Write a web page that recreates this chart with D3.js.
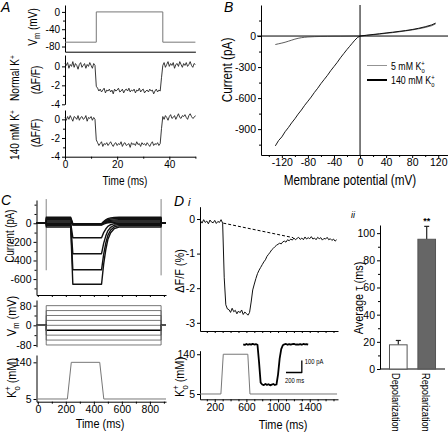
<!DOCTYPE html>
<html><head><meta charset="utf-8">
<script src="https://cdn.jsdelivr.net/npm/d3@7"></script>
<style>
body{margin:0;background:#fff}
svg{display:block}
text{font-family:"Liberation Sans",Arial,sans-serif;fill:#000}
</style></head><body>
<svg id="fig" width="448" height="434"></svg>
<script>
// ---------------- Panel A data ----------------
const aSampleMs = 0.5;
const aVmTimes = [0, 12, 12, 37.5, 37.5, 50];
const aVmValues = [-70, -70, 0, 0, -70, -70];
const aNormalK = [0.3,0.1,0.4,-0.2,0.2,0.0,0.5,-0.1,0.3,0.1,-0.3,0.2,0.4,-0.1,0.1,0.3,-0.2,0.2,0.0,0.4,0.1,-0.2,0.3,0.1,
 -2.1,
 -2.3,-2.6,-2.4,-2.7,-2.5,-2.3,-2.8,-2.5,-2.6,-2.4,-2.7,-2.5,-2.9,-2.4,-2.6,-2.5,-2.3,-2.7,-2.6,-2.4,
 -2.8,-2.5,-2.4,-2.6,-2.3,-2.7,-2.5,-2.6,-2.4,-2.8,-2.5,-2.6,-2.3,-2.7,-2.5,-2.4,-2.8,-2.6,-2.5,-2.7,
 -2.4,-2.6,-2.5,-2.9,-2.6,-2.4,-2.7,-2.5,-2.6,
 -1.2,
 0.1,0.4,-0.1,0.2,0.5,0.0,0.3,0.1,0.4,-0.2,0.2,0.3,0.0,0.5,0.2,-0.1,0.3,0.1,0.4,0.0,0.2,0.5,0.1,-0.1,0.3,0.2];
const aHighK = [0.2,-0.1,0.3,0.0,0.4,0.1,-0.2,0.3,0.2,0.0,0.4,-0.1,0.2,0.3,0.0,0.1,0.4,-0.2,0.2,0.1,0.3,-0.1,0.2,0.0,
 -2.2,
 -2.5,-2.8,-2.6,-2.4,-2.9,-2.6,-2.7,-2.5,-2.8,-2.6,-2.4,-2.7,-2.9,-2.6,-2.5,-2.8,-2.6,-2.7,-2.4,-2.9,
 -2.6,-2.5,-2.8,-2.7,-2.6,-3.0,-2.5,-2.7,-2.6,-2.8,-2.4,-2.7,-2.6,-2.9,-2.5,-2.7,-2.6,-2.8,-2.5,-2.7,
 -2.9,-2.6,-2.4,-2.8,-2.6,-2.7,-2.5,-2.8,-2.6,
 -1.0,
 0.3,0.0,0.4,0.2,-0.1,0.3,0.5,0.1,0.2,0.4,0.0,0.3,0.6,0.2,0.1,0.4,0.3,0.5,0.2,0.0,0.4,0.6,0.3,0.1,0.2,0.4];
const aVmTicks = [0, -40, -80];
const aFluoTicks = [0, -2, -4];
const aTimeTicks = [0, 20, 40];

// ---------------- Panel B data ----------------
const b140Voltage = [-130,-125,-120,-115,-110,-105,-100,-95,-90,-85,-80,-75,-70,-65,-60,-55,-50,-45,-40,-35,-30,-25,-20,-16,-12,-8,-4,0,10,20,30,40,50,60,70,80,90,100,110,116];
const b140Current = [-1062,-1010,-975,-925,-885,-840,-800,-755,-715,-670,-630,-590,-545,-505,-460,-420,-380,-335,-295,-255,-210,-170,-130,-100,-70,-40,-15,0,8,15,22,30,37,45,53,63,75,90,108,125];
const b5Voltage = [-130,-125,-120,-115,-110,-105,-100,-95,-90,-85,-80,-70,-60,-50,-40,-30,-20,-10,0,10,20,30,40,50,60,70,80,90,100,110,116];
const b5Current = [-82,-75,-68,-60,-50,-40,-30,-22,-16,-12,-9,-6,-4,-3,-2,-2,-1,0,0,6,12,19,26,33,41,50,59,70,83,100,118];
const bXTicks = [-120,-80,-40,0,40,80,120];
const bYTicks = [0,-300,-600,-900];

// ---------------- Panel C data ----------------
const cStepVoltages = [80,60,40,20,0,-20,-40,-60,-80];
const cBaseCurrents = [65,52,38,25,12,0,-12,-25,-40];
const cKCurrents = [-5,-8,-12,-16,-20,-155,-327,-500,-655];
const cStepOn = 60, cStepOff = 880;
const cKPhaseTimes = [235,250,445,455,470,485,500,520,545,580];
const cKPhaseWeights = [0,1,1,1,0.65,0.4,0.22,0.1,0.03,0];
const cSpikeTimes = [60, 880];
const cSpikeTop = [260, 260];
const cSpikeBottom = [-505, -560];
const cKTimes = [-9, 211, 239, 442, 471, 915];
const cKValues = [5, 5, 140, 140, 5, 5];
const cCurrentTicks = [0,-200,-400,-600];
const cVmTicks = [80,0,-80];
const cKTicks = [140,5];
const cTimeTicks = [0,200,400,600,800];

// ---------------- Panel D data ----------------
const dFluoStart = 20, dFluoStep = 20;
const dFluo = [-0.05,-0.12,-0.02,-0.10,-0.06,-0.14,-0.03,-0.09,-0.11,-0.04,-0.13,-0.07,-0.10,-0.02,-0.12,
 -1.7,-2.48,-2.6,
 -2.62,-2.70,-2.58,-2.68,-2.64,-2.74,-2.66,-2.71,-2.63,-2.76,-2.69,-2.73,-2.78,-2.70,
 -2.4,-2.05,-1.88,-1.72,-1.58,-1.48,-1.40,-1.32,-1.24,-1.18,-1.08,-1.02,-0.96,-0.89,-0.85,-0.80,-0.76,-0.73,-0.70,-0.72,-0.66,-0.64,-0.67,
 -0.60,-0.63,-0.58,-0.61,-0.55,-0.60,-0.56,-0.53,-0.59,-0.55,-0.60,-0.52,-0.58,-0.54,-0.57,-0.51,-0.58,-0.55,-0.60,-0.53,-0.57,-0.54,-0.61,-0.56,-0.58,-0.53,-0.60,-0.57,-0.62,-0.58,-0.64,-0.60];
const dDashTimes = [308, 1192];
const dDashValues = [-0.12, -0.54];
const dKTimes = [14, 278, 308, 618, 645, 1745];
const dKValues = [5, 5, 140, 140, 5, 5];
const dCurrentStart = 560, dCurrentStep = 20;
const dCurrent = [0,-5,3,-4,2,-3,4,-2,1,-4,
 -150,-320,
 -335,-340,-330,-338,-333,-342,-336,-331,-339,-335,
 -250,-120,-40,-8,
 0,3,-4,2,-3,1,4,-2,0,-3,2,-4,3,-1,2,-3];
const dScaleBarTime = [1100, 1300];
const dScaleBarCurrent = [-235, -135];
const dFluoTicks = [0,-1,-2,-3];
const dKTicks = [140,5];
const dTimeTicks = [200,600,1000,1400];
const dBarCategories = ["Depolarization","Repolarization"];
const dBarValues = [17.8, 95.5];
const dBarErrors = [3.2, 9.5];
const dBarTicks = [0,20,40,60,80,100];

// ---------------- helpers ----------------
const svg = d3.select('#fig');
svg.append('rect').attr('width',448).attr('height',434).attr('fill','#fff');
const FONT = '"Liberation Sans",Arial,sans-serif';

function addAxis(orient, scale, at, major, minor, fmt, fs) {
  const mk = orient === 'left' ? d3.axisLeft : d3.axisBottom;
  const tr = orient === 'left' ? `translate(${at},0)` : `translate(0,${at})`;
  if (minor && minor.length) {
    const m = svg.append('g').attr('transform', tr)
      .call(mk(scale).tickValues(minor).tickSize(2).tickSizeOuter(0).tickFormat(''));
    m.select('.domain').remove();
    m.selectAll('line').attr('stroke','#000');
  }
  const g = svg.append('g').attr('transform', tr)
    .call(mk(scale).tickValues(major).tickSize(3).tickSizeOuter(0).tickPadding(orient === 'left' ? 2 : 1)
      .tickFormat(fmt || (d => String(d))));
  g.attr('font-family', FONT).attr('font-size', fs || 10.5);
  g.select('.domain').attr('stroke','#000');
  g.selectAll('line').attr('stroke','#000');
  return g;
}
function mkText(transform, parts, fs, anchor) {
  const t = svg.append('text').attr('transform', transform)
    .attr('text-anchor', anchor).attr('font-size', fs);
  parts.forEach(p => {
    const s = t.append('tspan').text(p.t);
    if (p.dy) s.attr('dy', p.dy);
    if (p.dx) s.attr('dx', p.dx);
    if (p.size) s.attr('font-size', p.size);
  });
  return t;
}
function rotLabel(x, y, parts, fs, sx, angle) {
  return mkText(`translate(${x},${y}) rotate(${angle || -90}) scale(${sx},1)`, parts, fs, angle === 90 ? 'start' : 'middle');
}
function hLabel(x, y, parts, fs, sx, anchor) {
  return mkText(`translate(${x},${y}) scale(${sx},1)`, parts, fs, anchor || 'middle');
}
function path(data, xs, ys, stroke, w, dash) {
  const p = svg.append('path').datum(data)
    .attr('d', d3.line().x(d => xs(d[0])).y(d => ys(d[1])))
    .attr('fill','none').attr('stroke',stroke).attr('stroke-width',w)
    .attr('stroke-linejoin','round');
  if (dash) p.attr('stroke-dasharray', dash);
  return p;
}
const SX = 0.84;

// ---------------- Panel A ----------------
const aX = d3.scaleLinear().domain([0, 50]).range([65, 195.4]);
const aYVm = d3.scaleLinear().domain([-92, 16]).range([51.7, 5]);
const aYN = d3.scaleLinear().domain([-4, 1.2]).range([104.3, 55]);
const aYH = d3.scaleLinear().domain([-4, 1]).range([156.7, 110]);

addAxis('left', aYVm, 65, aVmTicks, [-20,-60], null, 10);
addAxis('bottom', aX, 51.7, [], []);
addAxis('left', aYN, 65, aFluoTicks, [-1,-3], null, 10);
addAxis('left', aYH, 65, aFluoTicks, [-1,-3], null, 10);
addAxis('bottom', aX, 156.7, aTimeTicks, [10,30,50], null, 10);

path(aVmTimes.map((t,i) => [t, aVmValues[i]]), aX, aYVm, '#777', 1);
path(aNormalK.map((v,i) => [i*aSampleMs, v]), aX, aYN, '#222', 0.9);
path(aHighK.map((v,i) => [i*aSampleMs, v]), aX, aYH, '#222', 0.9);

rotLabel(36.5, 27, [{t:'V'},{t:'m',dy:3,size:9},{t:' (mV)',dy:-3}], 12, SX);
rotLabel(19, 78, [{t:'Normal K'},{t:'+',dy:-4,size:8}], 12, SX);
rotLabel(39.5, 80, [{t:'(ΔF/F)'}], 12, SX);
rotLabel(19, 135, [{t:'140 mM K'},{t:'+',dy:-4,size:8}], 12, SX);
rotLabel(39.5, 133, [{t:'(ΔF/F)'}], 12, SX);
hLabel(125, 185, [{t:'Time (ms)'}], 12, SX);
svg.append('text').attr('x',1).attr('y',12).attr('font-size',14).attr('font-style','italic').text('A');

// ---------------- Panel B ----------------
const bX = d3.scaleLinear().domain([-152, 135]).range([261, 448]);
const bY = d3.scaleLinear().domain([-1150, 300]).range([155, 5]);
addAxis('left', bY, 261, bYTicks, [-150,-450,-750,-1050,150]);
addAxis('bottom', bX, 155, bXTicks, [-140,-100,-60,-20,20,60,100]);
svg.append('line').attr('x1',bX(-152)-4).attr('x2',448).attr('y1',bY(0)).attr('y2',bY(0)).attr('stroke','#000');
svg.append('line').attr('x1',bX(0)).attr('x2',bX(0)).attr('y1',5).attr('y2',155).attr('stroke','#000');
path(b5Voltage.map((v,i)=>[v,b5Current[i]]), bX, bY, '#333', 0.8);
path(b140Voltage.map((v,i)=>[v,b140Current[i]]), bX, bY, '#000', 0.9);
svg.append('line').attr('x1',367).attr('x2',387).attr('y1',65.5).attr('y2',65.5).attr('stroke','#777').attr('stroke-width',0.8);
svg.append('line').attr('x1',367).attr('x2',387).attr('y1',80).attr('y2',80).attr('stroke','#000').attr('stroke-width',2);
hLabel(391, 69.5, [{t:'5 mM K'},{t:'+',dy:-4,size:7},{t:'o',dx:-4,dy:7,size:7}], 10.5, SX, 'start');
hLabel(391, 84, [{t:'140 mM K'},{t:'+',dy:-4,size:7},{t:'o',dx:-4,dy:7,size:7}], 10.5, SX, 'start');
rotLabel(232, 70, [{t:'Current (pA)'}], 14, SX);
hLabel(350, 185, [{t:'Membrane potential (mV)'}], 14, SX);
svg.append('text').attr('x',224).attr('y',12).attr('font-size',14).attr('font-style','italic').text('B');

// ---------------- Panel C ----------------
const cX = d3.scaleLinear().domain([-9.3, 915]).range([36.5, 166]);
const cYI = d3.scaleLinear().domain([-771, 250]).range([295, 200]);
const cYV = d3.scaleLinear().domain([-87, 103]).range([346.7, 300]);
const cYK = d3.scaleLinear().domain([-5, 167]).range([401.7, 355]);
addAxis('left', cYI, 36.5, cCurrentTicks, [-100,-300,-500,-700,100,200]);
addAxis('bottom', cX, 295, [], [0,100,200,300,400,500,600,700,800,900]);
addAxis('left', cYV, 36.5, cVmTicks, [-40,40]);
addAxis('left', cYK, 36.5, cKTicks, []);
addAxis('bottom', cX, 401.7, cTimeTicks, [100,300,500,700,900]);

cSpikeTimes.forEach((t,i) => {
  svg.append('line').attr('x1',cX(t)).attr('x2',cX(t)).attr('y1',cYI(cSpikeTop[i])).attr('y2',cYI(cSpikeBottom[i]))
    .attr('stroke','#666').attr('stroke-width',0.8);
});
cStepVoltages.forEach((v,i) => {
  const b = cBaseCurrents[i], k = cKCurrents[i];
  const pts = [[-9.3,0],[cStepOn,0],[cStepOn,b]];
  cKPhaseTimes.forEach((t,j) => pts.push([t, b + cKPhaseWeights[j]*(k-b)]));
  pts.push([cStepOff,b],[cStepOff,0],[915,0]);
  path(pts, cX, cYI, '#111', 1.4);
});
cStepVoltages.forEach((v,i) => {
  const pts = [[-9.3,0],[cStepOn,0],[cStepOn,v],[cStepOff,v],[cStepOff,0],[915,0]];
  path(pts, cX, cYV, v === -20 ? '#000' : '#555', v === -20 ? 1.5 : 0.8);
});
path(cKTimes.map((t,i)=>[t,cKValues[i]]), cX, cYK, '#777', 1);

rotLabel(14, 236, [{t:'Current (pA)'}], 12, 0.8);
rotLabel(16, 316, [{t:'V'},{t:'m',dy:3,size:9},{t:' (mV)',dy:-3}], 13, SX);
rotLabel(16, 378, [{t:'K'},{t:'+',dy:-5,size:9},{t:'o',dx:-5,dy:9,size:9},{t:' (mM)',dy:-4}], 13, SX);
hLabel(100, 428, [{t:'Time (ms)'}], 13, SX);
svg.append('text').attr('x',1).attr('y',205).attr('font-size',14).attr('font-style','italic').text('C');

// ---------------- Panel D i ----------------
const dX = d3.scaleLinear().domain([14, 1757]).range([200, 338]);
const dYF = d3.scaleLinear().domain([-3.237, 0.355]).range([331, 206.7]);
const dYK = d3.scaleLinear().domain([-13, 152]).range([399.3, 350.7]);
const dYI = d3.scaleLinear().domain([-100, 0]).range([356.3, 344.3]);
const dMinor = [100,200,300,400,500,600,700,800,900,1000,1100,1200,1300,1400,1500,1600,1700];
addAxis('left', dYF, 200, dFluoTicks, []);
addAxis('bottom', dX, 331, [], dMinor);
addAxis('left', dYK, 200, dKTicks, []);
addAxis('bottom', dX, 399.3, dTimeTicks, dMinor.filter(d => !dTimeTicks.includes(d)));

path(dFluo.map((v,i)=>[dFluoStart + i*dFluoStep, v]), dX, dYF, '#111', 1);
path(dDashTimes.map((t,i)=>[t,dDashValues[i]]), dX, dYF, '#000', 1, '3,2');
path(dKTimes.map((t,i)=>[t,dKValues[i]]), dX, dYK, '#777', 1);
path(dCurrent.map((v,i)=>[dCurrentStart + i*dCurrentStep, v]), dX, dYI, '#000', 1.8);
path([[dScaleBarTime[0],dScaleBarCurrent[0]],[dScaleBarTime[1],dScaleBarCurrent[0]],[dScaleBarTime[1],dScaleBarCurrent[1]]], dX, dYI, '#000', 1.3);
hLabel(dX(dScaleBarTime[1])+3, dYI(dScaleBarCurrent[1])+3, [{t:'100 pA'}], 6.5, 0.9, 'start');
hLabel(dX(dScaleBarTime[0])-1, dYI(dScaleBarCurrent[0])+10, [{t:'200 ms'}], 6.5, 0.9, 'start');

rotLabel(184, 271, [{t:'ΔF/F (%)'}], 13, SX);
rotLabel(184, 377, [{t:'K'},{t:'+',dy:-5,size:9},{t:'o',dx:-5,dy:9,size:9},{t:' (mM)',dy:-4}], 13, SX);
hLabel(283, 429, [{t:'Time (ms)'}], 13, SX);
svg.append('text').attr('x',174).attr('y',206).attr('font-size',14).attr('font-style','italic').text('D');
svg.append('text').attr('x',188).attr('y',206).attr('font-size',11).attr('font-style','italic').text('i');

// ---------------- Panel D ii ----------------
const dBX = d3.scaleBand().domain(dBarCategories).range([380.4, 444.6]).paddingInner(0.38).paddingOuter(0.32);
const dBY = d3.scaleLinear().domain([0, 106]).range([369, 225]);
addAxis('left', dBY, 380, dBarTicks, [10,30,50,70,90]);
svg.append('line').attr('x1',380).attr('x2',445).attr('y1',dBY(0)).attr('y2',dBY(0)).attr('stroke','#000');
const barFill = ['#fff','#666'];
dBarCategories.forEach((c,i) => {
  const x0 = dBX(c), w = dBX.bandwidth(), cx = x0 + w/2;
  svg.append('line').attr('x1',cx).attr('x2',cx).attr('y1',dBY(dBarValues[i])).attr('y2',dBY(dBarValues[i]+dBarErrors[i])).attr('stroke','#222').attr('stroke-width',1.2);
  svg.append('line').attr('x1',cx-2.5).attr('x2',cx+2.5).attr('y1',dBY(dBarValues[i]+dBarErrors[i])).attr('y2',dBY(dBarValues[i]+dBarErrors[i])).attr('stroke','#222').attr('stroke-width',1.2);
  svg.append('rect').attr('x',x0).attr('width',w).attr('y',dBY(dBarValues[i])).attr('height',dBY(0)-dBY(dBarValues[i]))
    .attr('fill',barFill[i]).attr('stroke','#555').attr('stroke-width',1);
});
rotLabel(391.5, 373, [{t:'Depolarization'}], 10, 0.92, 90);
rotLabel(421.5, 373, [{t:'Repolarization'}], 10, 0.92, 90);
svg.append('text').attr('x',dBX('Repolarization')+dBX.bandwidth()/2).attr('y',224).attr('text-anchor','middle').attr('font-size',9).attr('font-weight','bold').text('**');
rotLabel(363, 298, [{t:'Average τ (ms)'}], 13, SX);
svg.append('text').attr('x',351).attr('y',218).attr('font-size',9).attr('font-style','italic').text('ii');
</script></body></html>
